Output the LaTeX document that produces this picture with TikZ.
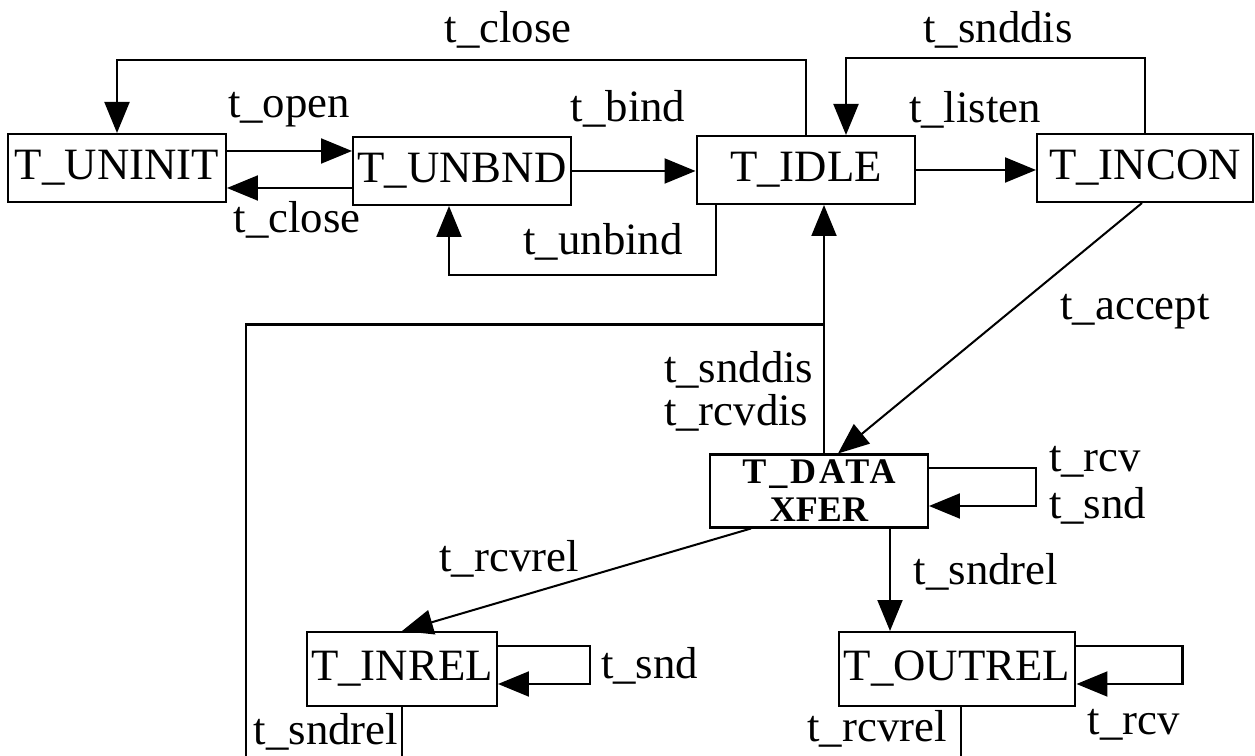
\documentclass[tikz,border=0pt]{standalone}
\usepackage{fontspec}
\setmainfont{Liberation Serif}
\usetikzlibrary{arrows.meta,positioning,calc}

\begin{document}
\begin{tikzpicture}[x=0.02cm,y=-0.02cm,line width=1.15pt,
  state/.style={draw,minimum height=1.36cm,inner sep=0pt,font=\fontsize{25.5}{30}\selectfont},
  lab/.style={inner sep=0pt,anchor=base,font=\fontsize{25.5}{30}\selectfont},
  arr/.style={-{Triangle[length=0.62cm,width=0.5cm]}}]
\useasboundingbox (0,0) rectangle (1255,756);
\node[state,minimum width=4.36cm] (uninit) at (117,168) {T\_UNINIT};
\node[state,minimum width=4.36cm] (unbnd) at (462,171) {T\_UNBND};
\node[state,minimum width=4.38cm] (idle) at (806,170) {T\_IDLE};
\node[state,minimum width=4.32cm] (incon) at (1145,168) {T\_INCON};
\node[state,minimum width=4.36cm,minimum height=1.46cm,align=center,font=\bfseries\fontsize{20.5}{21.6}\selectfont] (xfer) at (819,491) {{\addfontfeatures{LetterSpace=8}T\_DATA}\\XFER};
\node[state,minimum width=3.8cm,minimum height=1.48cm] (inrel) at (402,669) {T\_INREL};
\node[state,minimum width=4.74cm,minimum height=1.48cm] (outrel) at (957,669) {T\_OUTREL};

\draw[arr] ($(uninit.east)+(0,-17)$) coordinate (o1) -- (o1 -| unbnd.west);
\draw[arr] ($(unbnd.west)+(0,17)$) coordinate (c1) -- (c1 -| uninit.east);
\draw[arr] (unbnd.east) -- (unbnd.east -| idle.west);
\draw[arr] (idle.east) -- (idle.east -| incon.west);
\draw[arr] ($(idle.south)+(-90,0)$) |- ($(unbnd.south)+(-13,69)$) -- ($(unbnd.south)+(-13,0)$);
\draw[arr] (idle.north) -- (idle.north |- 0,60) -| (uninit.north);
\draw[arr] (incon.north) -- (incon.north |- 0,58) -| ($(idle.north)+(40,0)$);
\draw[arr] ($(incon.south)+(-3,0)$) -- ($(xfer.north)+(19,0)$);
\draw[arr] ($(xfer.north)+(5,0)$) -- ($(idle.south)+(18,0)$);
\coordinate (fork) at ($(xfer.north)+(5,-129)$);
\draw (fork) -| (246,760);
\draw[arr] ($(xfer.south)+(-68,0)$) -- (inrel.north);
\draw[arr] ($(xfer.south)+(71,0)$) coordinate (s1) -- (s1 |- outrel.north);
\foreach \n/\dx in {xfer/107,inrel/92,outrel/106}
  \draw[arr] ($(\n.east)+(0,-23)$) -| ($(\n.east)+(\dx,15)$) -- ($(\n.east)+(0,15)$);
\draw (inrel.south) -- (inrel.south |- 0,760);
\draw ($(outrel.south)+(4,0)$) coordinate (r1) -- (r1 |- 0,760);

\node[lab] (l-close) at (508,43) {t\_close};
\node[lab] (l-open) at (289,118) {t\_open};
\node[lab] (l-close2) at (297,233) {t\_close};
\node[lab] (l-bind) at (628,122) {t\_bind};
\node[lab] (l-unbind) at (603,255) {t\_unbind};
\node[lab] (l-snddis) at (998,43) {t\_snddis};
\node[lab] (l-listen) at (975,123) {t\_listen};
\node[lab] (l-accept) at (1135,320) {t\_accept};
\node[lab,anchor=base west] (l-dis1) at (663,383) {t\_snddis};
\node[lab,anchor=base west] (l-dis2) at (663,426) {t\_rcvdis};
\node[lab,anchor=base west] (l-rcv) at (1048,472) {t\_rcv};
\node[lab,anchor=base west] (l-snd) at (1048,519) {t\_snd};
\node[lab] (l-rcvrel) at (509,572) {t\_rcvrel};
\node[lab] (l-sndrel) at (986,585) {t\_sndrel};
\node[lab,anchor=base west] (l-snd2) at (600,679) {t\_snd};
\node[lab] (l-sndrel2) at (326,745) {t\_sndrel};
\node[lab] (l-rcvrel2) at (877,742) {t\_rcvrel};
\node[lab] (l-rcv2) at (1134,735) {t\_rcv};
\end{tikzpicture}
\end{document}
